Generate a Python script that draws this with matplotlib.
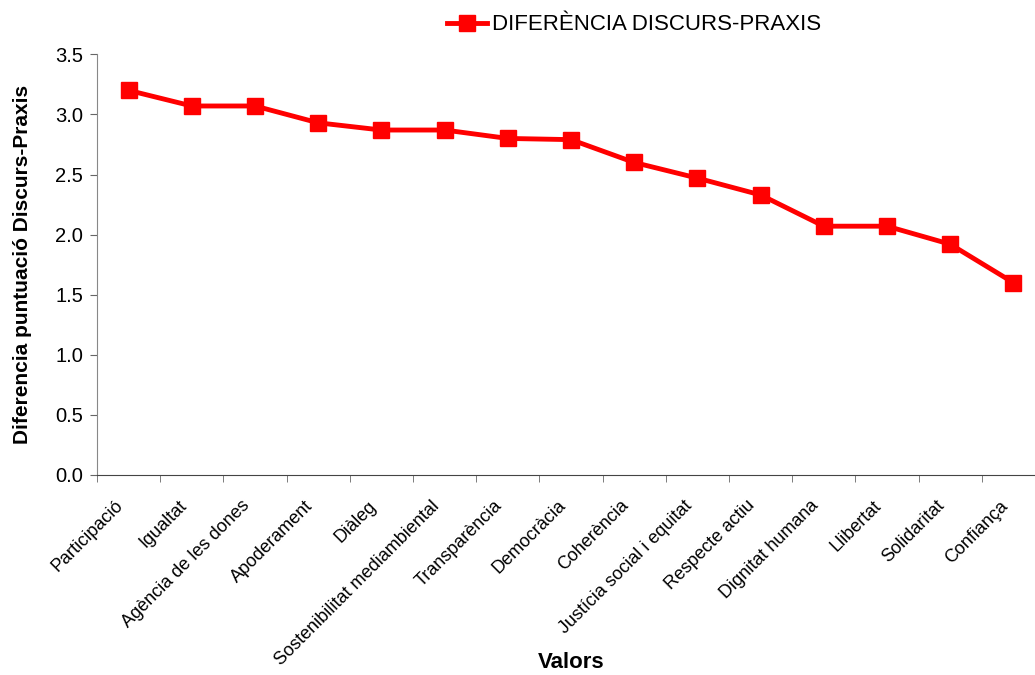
import matplotlib.pyplot as plt
import matplotlib.transforms as mtransforms
import numpy as np

plt.rcParams["font.family"] = ["Liberation Sans", "DejaVu Sans"]

valors = [
    "Participació", "Igualtat", "Agència de les dones", "Apoderament", "Diàleg",
    "Sostenibilitat mediambiental", "Transparència", "Democràcia", "Coherència",
    "Justícia social i equitat", "Respecte actiu", "Dignitat humana", "Llibertat",
    "Solidaritat", "Confiança",
]
diferencia = [3.20, 3.07, 3.07, 2.93, 2.87, 2.87, 2.80, 2.79, 2.60,
              2.47, 2.33, 2.07, 2.07, 1.92, 1.60]
y_ticks = [0.0, 0.5, 1.0, 1.5, 2.0, 2.5, 3.0, 3.5]

fig = plt.figure(figsize=(10.35, 6.75), dpi=100)
ax = fig.add_axes([97 / 1035, 200 / 675, 948 / 1035, 420.7 / 675])

x = np.arange(len(valors))
ax.plot(x, diferencia, color="#ff0000", linewidth=3.5, marker="s",
        markersize=11, label="DIFERÈNCIA DISCURS-PRAXIS")

ax.set_xlim(-0.5, len(valors) - 0.5)
ax.set_ylim(0, 3.5)
ax.set_yticks(y_ticks)
ax.set_yticklabels([f"{v:.1f}" for v in y_ticks], fontsize=14.5)

ax.set_xticks(x)
ax.set_xticklabels(valors, rotation=45, ha="right", rotation_mode="anchor", fontsize=13)
ax.set_xticks(np.arange(-0.5, len(valors), 1), minor=True)
ax.tick_params(axis="x", which="major", length=0, pad=16)
ax.tick_params(axis="x", which="minor", length=5, color="#666666", direction="out")
ax.tick_params(axis="y", length=5, color="#666666", direction="out", pad=5)

# nudge the slanted labels a bit to the left, like the original
shift = mtransforms.ScaledTranslation(-14 / 100, 0, fig.dpi_scale_trans)
for lbl in ax.get_xticklabels():
    lbl.set_transform(lbl.get_transform() + shift)

for side in ["top", "right"]:
    ax.spines[side].set_visible(False)
ax.spines["left"].set_color("#888888")
ax.spines["bottom"].set_color("#444444")

ax.set_xlabel("Valors", fontsize=16, fontweight="bold")
ax.xaxis.set_label_coords(0.5, -0.42)
ax.set_ylabel("Diferencia puntuació Discurs-Praxis", fontsize=15, fontweight="bold")
ax.yaxis.set_label_coords(-0.069, 0.5)

fig.legend(loc="center", bbox_to_anchor=(634 / 1035, 1 - 25 / 675), frameon=False,
           fontsize=16, handlelength=1.8, handletextpad=0.2)

fig.savefig("out.png", dpi=100)
